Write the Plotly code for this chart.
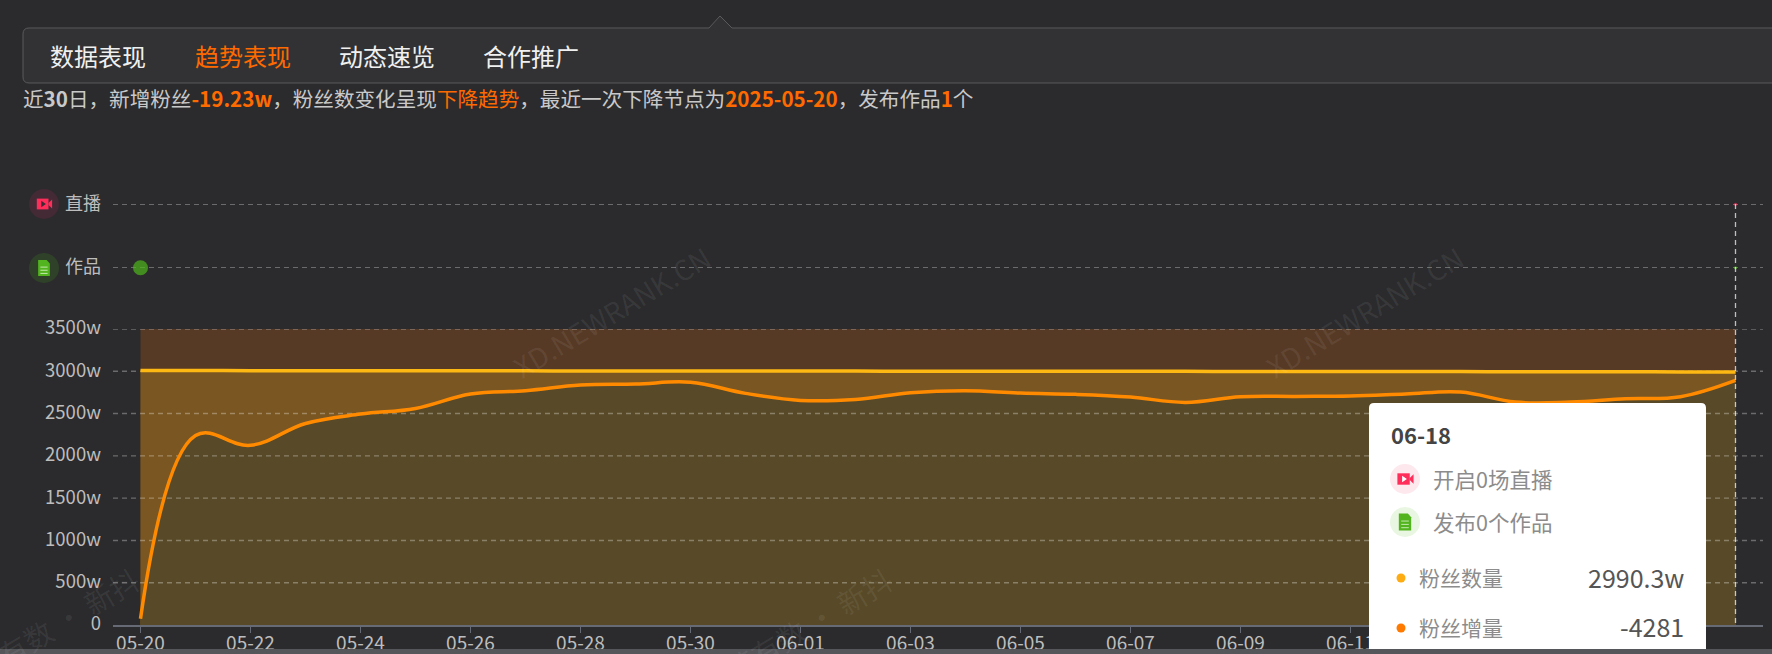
import plotly.graph_objects as go

W, H = 1772, 654
FONT = "Noto Sans CJK SC"

# ---- data ----
dates = ["05-20","05-21","05-22","05-23","05-24","05-25","05-26","05-27","05-28","05-29",
         "05-30","05-31","06-01","06-02","06-03","06-04","06-05","06-06","06-07","06-08",
         "06-09","06-10","06-11","06-12","06-13","06-14","06-15","06-16","06-17","06-18"]
fans = [3009.5,3008.5,3007.5,3007,3006.5,3006,3005.5,3005,3004.5,3004,
        3003.5,3003,3002.5,3002,3001.5,3001,3000.5,3000,2999.5,2999,
        2998.5,2998,2997,2996.5,2996,2995.5,2995,2994,2992,2990.3]
growth = [75,2240,2125,2383,2494,2561,2731,2770,2837,2849,
          2870,2739,2656,2667,2746,2770,2742,2727,2695,2632,
          2699,2703,2707,2731,2755,2636,2636,2675,2700,2892]
band_top = [3500]*30
y_ticks = [0,500,1000,1500,2000,2500,3000,3500]
y_labels = ["0","500w","1000w","1500w","2000w","2500w","3000w","3500w"]
x_ticks = list(range(0,30,2))
hidden_tick_labels = ["06-13","06-15","06-17"]
row_labels = ["作品","直播"]
work_days = [0,29]
work_sizes = [15,3]
live_days = [29]
live_sizes = [3]
nav_items = ["数据表现","趋势表现","动态速览","合作推广"]

def px(x): return x/W
def py(y): return 1-y/H

fig = go.Figure()
skip = dict(hoverinfo="skip", showlegend=False)
SMOOTH = 1.1
fig.add_trace(go.Scatter(x=list(range(30)), y=band_top, mode="none", fill="tozeroy", fillcolor="#573a26", **skip))
fig.add_trace(go.Scatter(x=list(range(30)), y=fans, mode="lines", line=dict(width=0, shape="spline", smoothing=SMOOTH),
                         fill="tozeroy", fillcolor="#7a5622", **skip))
fig.add_trace(go.Scatter(x=list(range(30)), y=growth, mode="lines", line=dict(width=0, shape="spline", smoothing=SMOOTH),
                         fill="tozeroy", fillcolor="#584a28", **skip))
for t in y_ticks[1:]:
    fig.add_trace(go.Scatter(x=[-0.5,29.5], y=[t,t], mode="lines",
                             line=dict(color="rgba(255,255,255,0.3)", width=1.4, dash="5px,4px"), **skip))
fig.add_trace(go.Scatter(x=list(range(30)), y=fans, name="粉丝数量", mode="lines",
                         line=dict(color="#fdb813", width=3.5, shape="spline", smoothing=SMOOTH), showlegend=False))
fig.add_trace(go.Scatter(x=list(range(30)), y=growth, name="粉丝增量", mode="lines",
                         line=dict(color="#ff8a00", width=3.5, shape="spline", smoothing=SMOOTH), showlegend=False))
fig.add_trace(go.Scatter(x=work_days, y=[0]*len(work_days), yaxis="y2", mode="markers", cliponaxis=False,
                         marker=dict(color="#4fb81b", size=work_sizes, line=dict(width=0)), **skip))
fig.add_trace(go.Scatter(x=live_days, y=[1]*len(live_days), yaxis="y2", mode="markers", cliponaxis=False,
                         marker=dict(color="#ff2d5a", size=live_sizes, line=dict(width=0)), **skip))

shapes = []
def paper_path(d, fill, line=None, lw=1, layer="above"):
    shapes.append(dict(type="path", xref="paper", yref="paper", path=d, fillcolor=fill,
                       line=dict(color=line or "rgba(0,0,0,0)", width=lw if line else 0), layer=layer))
def P(x,y): return f"{px(x):.5f},{py(y):.5f}"
def rect(x0,y0,x1,y1,fill,layer="above"):
    shapes.append(dict(type="rect", xref="paper", yref="paper", x0=px(x0), x1=px(x1), y0=py(y0), y1=py(y1),
                       fillcolor=fill, line=dict(width=0), layer=layer))
def circle(cx,cy,r,fill,layer="above"):
    shapes.append(dict(type="circle", xref="paper", yref="paper", x0=px(cx-r), x1=px(cx+r), y0=py(cy-r), y1=py(cy+r),
                       fillcolor=fill, line=dict(width=0), layer=layer))

# nav panel with notch
paper_path(f"M {P(1773,28)} L {P(732,28)} L {P(720,16)} L {P(709,28)} L {P(29,28)} Q {P(23,28)} {P(23,34)} "
           f"L {P(23,77)} Q {P(23,83)} {P(29,83)} L {P(1773,83)} Z", "#323234", "#5a5a5c", 1)

# axis-pointer
shapes.append(dict(type="line", xref="x", yref="paper", x0=29, x1=29, y0=py(204), y1=py(625),
                   line=dict(color="rgba(255,255,255,0.7)", width=1.3, dash="5px,4px"), layer="above"))

def live_icon(cx,cy,s,bg,rr):
    circle(cx,cy,rr,bg)
    rect(cx-8*s,cy-6*s,cx+5*s,cy+6*s,"#ff2d5a")
    paper_path(f"M {P(cx+5*s,cy-1*s)} L {P(cx+9*s,cy-5*s)} L {P(cx+9*s,cy+5*s)} L {P(cx+5*s,cy+1*s)} Z","#ff2d5a")
    paper_path(f"M {P(cx-3*s,cy-3.5*s)} L {P(cx+2*s,cy)} L {P(cx-3*s,cy+3.5*s)} Z","#ffffff" if bg.startswith("#fd") else "#3d2b33")
def doc_icon(cx,cy,s,bg,rr):
    circle(cx,cy,rr,bg)
    paper_path(f"M {P(cx-6.5*s,cy-9*s)} L {P(cx+3*s,cy-9*s)} L {P(cx+6.5*s,cy-5*s)} L {P(cx+6.5*s,cy+9*s)} L {P(cx-6.5*s,cy+9*s)} Z","#52b41e")
    for d in (-1,2.5,6):
        rect(cx-4*s,cy+d*s-0.5,cx+4*s,cy+d*s+0.5,"#c5eab0")

live_icon(44,204,0.9,"#432a35",15)
doc_icon(44,268,0.9,"#2f4229",15)

# tooltip card
paper_path(f"M {P(1369,660)} L {P(1369,408)} Q {P(1369,403)} {P(1374,403)} L {P(1701,403)} Q {P(1706,403)} {P(1706,408)} L {P(1706,660)} Z",
           "#ffffff")
live_icon(1405,479,0.95,"#fde8ee",15)
doc_icon(1405,522,0.95,"#e9f7e2",15)
circle(1401,578,4.5,"#fdad13")
circle(1401,628,4.5,"#ff7a00")

# page strip at the bottom
rect(0,649,W,H+1,"#55565a")

ann = []
def text(x,y,s,size,color,anchor="left",angle=0):
    ann.append(dict(xref="paper",yref="paper",x=px(x),y=py(y),text=s,showarrow=False,xanchor=anchor,yanchor="middle",
                    align=anchor if anchor!="center" else "center",textangle=angle,
                    font=dict(family=FONT,size=size,color=color)))

for x,s,c in zip([48,192.5,337,480.5],nav_items,["#f0f0f0","#ff6a00","#f0f0f0","#f0f0f0"]):
    text(x,55,s,24,c)

OR = "#ff6a00"
sub = (f'近<b>30</b>日，新增粉丝<b><span style="color:{OR}">-19.23w</span></b>，粉丝数变化呈现'
       f'<span style="color:{OR}">下降趋势</span>，最近一次下降节点为<b><span style="color:{OR}">2025-05-20</span></b>，'
       f'发布作品<b><span style="color:{OR}">1</span></b>个')
text(21,98,sub,20.6,"#c9c9c9")

WM = "rgba(255,255,255,0.07)"
text(611,312,"XD.NEWRANK.CN",28,WM,"center",-31)
text(1364,312,"XD.NEWRANK.CN",28,WM,"center",-31)
text(43,631,"新榜有数 · 新抖",29,WM,"center",-31)
text(796,631,"新榜有数 · 新抖",29,WM,"center",-31)

text(1389,434,"<b>06-18</b>",22,"#444444")
text(1431,478,"开启0场直播",21.5,"#8c8c8c")
text(1431,521,"发布0个作品",21.5,"#8c8c8c")
text(1417,577,"粉丝数量",21,"#8c8c8c")
text(1417,627,"粉丝增量",21,"#8c8c8c")
text(1686,577,"2990.3w",25,"#555555","right")
text(1686,626,"-4281",25,"#555555","right")

tick_text = ["" if dates[i] in hidden_tick_labels else dates[i] for i in x_ticks]

fig.update_layout(
    width=W, height=H, autosize=False, margin=dict(l=0,r=0,t=0,b=0,autoexpand=False),
    paper_bgcolor="#2b2b2d", plot_bgcolor="rgba(0,0,0,0)", showlegend=False, hovermode=False,
    font=dict(family=FONT, color="#bdbdbd", size=17.5),
    shapes=shapes, annotations=ann,
    xaxis=dict(domain=[px(113),px(1763)], range=[-0.5,29.5], tickmode="array", tickvals=x_ticks,
               ticktext=tick_text, ticks="outside", ticklen=6, tickcolor="#666a75", tickwidth=1.3,
               showline=True, linecolor="#666a75", linewidth=2, showgrid=False, zeroline=False,
               ticklabelstandoff=-6,
               tickfont=dict(size=19,color="#bdbdbd"), anchor="y"),
    yaxis=dict(domain=[py(625),py(329)], range=[0,3500], tickmode="array", tickvals=y_ticks, ticktext=y_labels,
               showgrid=False, zeroline=False, showline=False, ticks="", ticklabelstandoff=11, ticklabelshift=-1,
               tickfont=dict(size=18.5,color="#bdbdbd")),
    yaxis2=dict(domain=[py(299.4),py(172.6)], range=[-0.5,1.5], tickmode="array", tickvals=[0,1], ticktext=row_labels,
                showgrid=True, gridcolor="rgba(255,255,255,0.3)", griddash="5px,4px", gridwidth=1.4,
                zeroline=False, showline=False, ticks="", ticklabelstandoff=11, ticklabelshift=-1, anchor="x",
                tickfont=dict(size=18,color="#bdbdbd")),
)
fig.write_html("out.html", config=dict(displayModeBar=False),
               post_script="document.body.style.margin='0';document.documentElement.style.overflow='hidden';")
